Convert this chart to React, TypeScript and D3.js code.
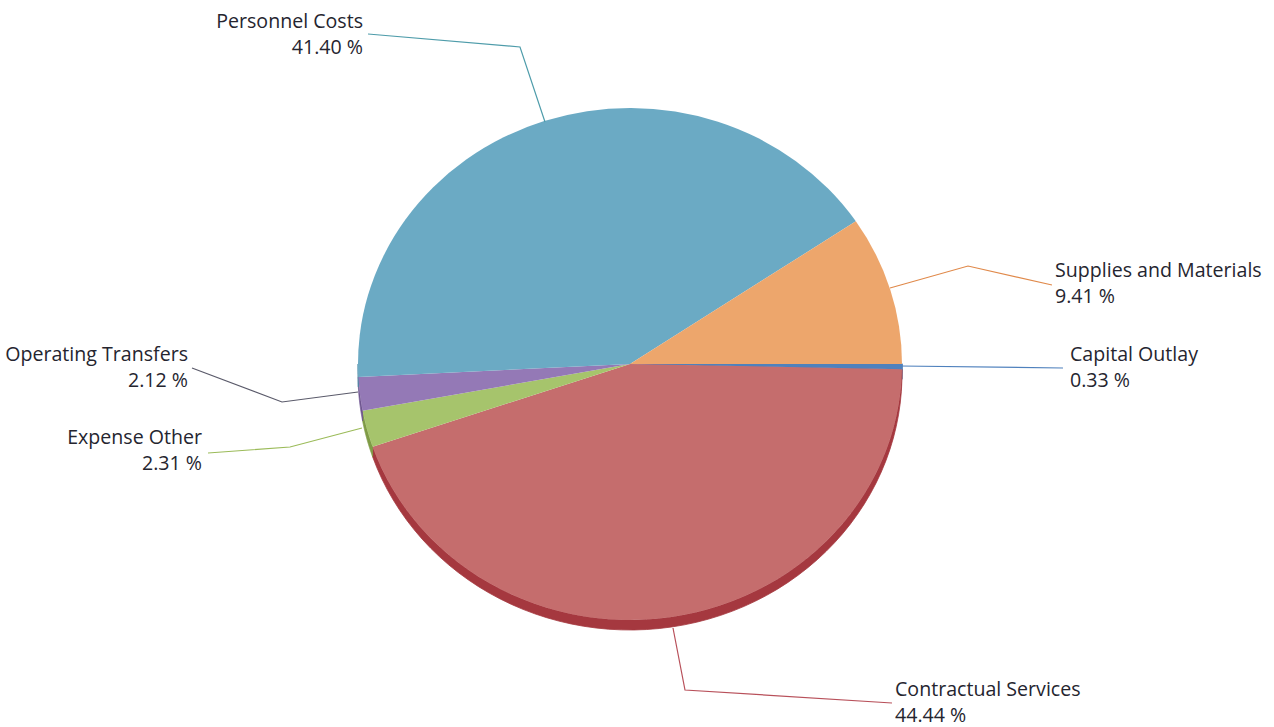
import React from "react";
import * as d3 from "d3";

const categories = [
  "Capital Outlay",
  "Contractual Services",
  "Expense Other",
  "Operating Transfers",
  "Personnel Costs",
  "Supplies and Materials",
];
const values = [0.33, 44.44, 2.31, 2.12, 41.4, 9.41];
const valueLabels = ["0.33 %", "44.44 %", "2.31 %", "2.12 %", "41.40 %", "9.41 %"];
const colors = ["#4F81BD", "#C56D6D", "#A6C46C", "#9479B6", "#6BAAC4", "#EDA66C"];
const sideColors = ["#3A669C", "#A5383F", "#7F9B45", "#6F5590", "#4B8BA6", "#C9824A"];
const lineColors = ["#4F81BD", "#B8505A", "#9BBB59", "#5A5A6A", "#4E9CAA", "#E0894A"];

const W = 1274;
const H = 727;
const cx = 630;
const cy = 364;
const rx = 272;
const ry = 256;
const depth = 10;

// label layout: anchor, x, first baseline, leader polyline (x,y pairs)
const labelAnchor = ["start", "start", "end", "end", "end", "start"];
const labelX = [1070, 895, 202, 188, 363, 1055];
const labelY = [361, 696, 444, 361, 28, 277];
const leaders: [number, number][][] = [
  [[900, 366], [1063, 368]],
  [[673, 628], [685, 690], [892, 703]],
  [[362, 428], [290, 447], [208, 453]],
  [[358, 392], [282, 402], [192, 368]],
  [[545, 122], [520, 47], [368, 34]],
  [[890, 288], [968, 266], [1052, 285]],
];

export default function App() {
  const pie = d3
    .pie<number>()
    .sort(null)
    .startAngle(Math.PI / 2)
    .endAngle(Math.PI / 2 + 2 * Math.PI);
  const arcs = pie(values);
  const arcGen = d3.arc<d3.PieArcDatum<number>>().innerRadius(0).outerRadius(rx);
  const k = ry / rx;

  const pt = (a: number) => [cx + rx * Math.sin(a), cy - ry * Math.cos(a)];

  const sides = arcs.map((a, i) => {
    const lo = Math.max(a.startAngle, Math.PI / 2);
    const hi = Math.min(a.endAngle, (3 * Math.PI) / 2);
    if (hi <= lo) return null;
    const n = 60;
    const top: number[][] = [];
    for (let j = 0; j <= n; j++) top.push(pt(lo + ((hi - lo) * j) / n));
    const bottom = top.slice().reverse().map(([x, y]) => [x, y + depth]);
    const d = "M" + top.concat(bottom).map((p) => p.join(",")).join("L") + "Z";
    return <path key={"s" + i} d={d} fill={sideColors[i]} stroke={sideColors[i]} strokeWidth={0.8} />;
  });

  const line = d3.line();

  return (
    <svg
      width={W}
      height={H}
      style={{ position: "absolute", left: 0, top: 0, background: "#fff" }}
      fontFamily="'Open Sans', 'Noto Sans', sans-serif"
    >
      <rect width={W} height={H} fill="#fff" />
      {sides}
      <g transform={`translate(${cx},${cy}) scale(1,${k})`}>
        {arcs.map((a, i) => (
          <path key={i} d={arcGen(a) || ""} fill={colors[i]} stroke={i === 0 ? colors[i] : "none"} strokeWidth={1.2} />
        ))}
      </g>
      {leaders.map((pts, i) => (
        <path key={"l" + i} d={line(pts) || ""} fill="none" stroke={lineColors[i]} strokeWidth={1.2} />
      ))}
      {categories.map((c, i) => (
        <text
          key={"t" + i}
          x={labelX[i]}
          y={labelY[i]}
          textAnchor={labelAnchor[i]}
          fontSize={19.6}
          fill="#25252F"
        >
          <tspan x={labelX[i]}>{c}</tspan>
          <tspan x={labelX[i]} dy={25.5}>
            {valueLabels[i]}
          </tspan>
        </text>
      ))}
    </svg>
  );
}
